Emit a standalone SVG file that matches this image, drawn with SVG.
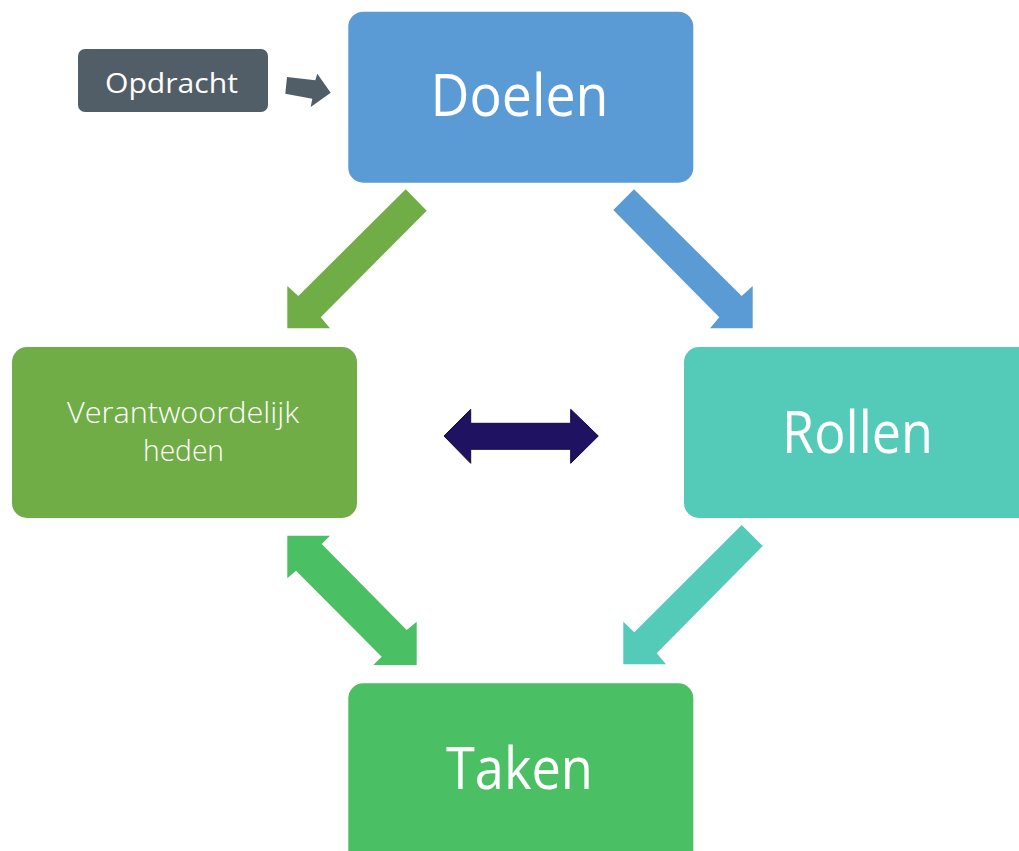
<svg xmlns="http://www.w3.org/2000/svg" width="1019" height="851" viewBox="0 0 1019 851">
<style>
text{font-family:"Open Sans","Liberation Sans",sans-serif;fill:#ffffff;text-anchor:middle}
.big{font-size:58px}
.mid{font-size:28px}
.small{font-size:29px;font-weight:300}
</style>
<rect width="1019" height="851" fill="#ffffff"/>
<g id="connectors">
<polygon points="287,77 315.3,80.3 317.3,73.7 330.7,92.7 310.7,107 312.3,98.7 285.3,93.7" fill="#515e68"/>
<polygon points="405.7,189.3 426.7,210.7 320.7,317.3 330,328.3 287.3,328.3 287.3,286 298.3,296" fill="#70ad47"/>
<polygon points="634,189.3 741.7,296 752.7,286 752.7,328.3 710,328.3 719.3,317.3 613.3,210" fill="#5b9bd5"/>
<polygon points="444,436 470.7,409.3 470.7,423.3 570.7,423.3 570.7,409.3 598.3,436 570.7,463.3 570.7,449.3 470.7,449.3 470.7,463.3" fill="#1f1260" stroke="#140a45" stroke-width="1"/>
<polygon points="287.3,535.7 330,535.7 321.7,544 406.7,630 416.7,621.7 416.7,665 373.3,665 381.7,656.7 296,570.7 287.3,578.3" fill="#4abf63"/>
<polygon points="741.7,525 762.7,546 656.7,653.3 666,664.3 623.3,664.3 623.3,621.7 634.3,632.3" fill="#54cab8"/>
</g>
<g id="opdracht">
<rect x="78" y="49" width="190" height="63" rx="7" fill="#515e68"/>
<text class="mid" x="171.5" y="93" textLength="133" lengthAdjust="spacingAndGlyphs">Opdracht</text>
</g>
<g id="doelen">
<rect x="348.3" y="11.7" width="345" height="171" rx="15" fill="#5b9bd5"/>
<text class="big" x="519.5" y="116" textLength="178" lengthAdjust="spacingAndGlyphs">Doelen</text>
</g>
<g id="verantwoordelijkheden">
<rect x="12" y="347" width="345" height="171" rx="15" fill="#70ad47"/>
<text class="small" x="183" y="423" textLength="232" lengthAdjust="spacingAndGlyphs">Verantwoordelijk</text>
<text class="small" x="183.5" y="461" textLength="81" lengthAdjust="spacingAndGlyphs">heden</text>
</g>
<g id="rollen">
<rect x="684" y="347" width="360" height="171" rx="15" fill="#54cab8"/>
<text class="big" x="857.5" y="453" textLength="151" lengthAdjust="spacingAndGlyphs">Rollen</text>
</g>
<g id="taken">
<rect x="348.3" y="683.3" width="345" height="185" rx="15" fill="#4abf63"/>
<text class="big" x="519.5" y="789" textLength="147" lengthAdjust="spacingAndGlyphs">Taken</text>
</g>
</svg>
